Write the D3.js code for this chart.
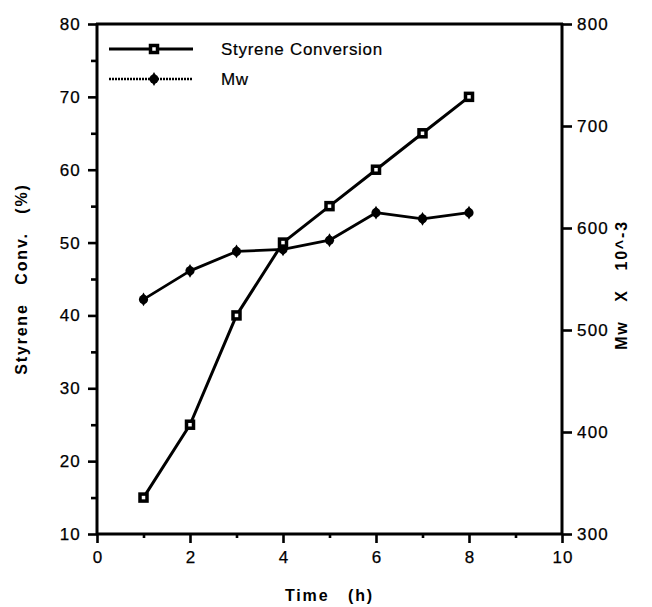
<!DOCTYPE html>
<html>
<head>
<meta charset="utf-8">
<script src="https://cdn.jsdelivr.net/npm/d3@7"></script>
<style>
  html, body { margin: 0; padding: 0; background: #fff; }
  svg text { font-family: "Liberation Sans", Arial, Helvetica, sans-serif; fill: #000; }
</style>
</head>
<body>
<svg id="chart" width="652" height="607"></svg>
<script>
// Reaction time (h)
const hours = [1, 2, 3, 4, 5, 6, 7, 8];
// Styrene conversion (%)
const conversion = [15, 25, 40, 50, 55, 60, 65, 70];
// Weight-average molecular weight, Mw x 10^-3
const mw = [530, 558, 577, 579, 588, 615, 609, 615];

const xTicks = [0, 2, 4, 6, 8, 10];
const xMinor = [1, 3, 5, 7, 9];
const leftTicks = [10, 20, 30, 40, 50, 60, 70, 80];
const leftMinor = [15, 25, 35, 45, 55, 65, 75];
const rightTicks = [300, 400, 500, 600, 700, 800];

const legendLabels = ["Styrene Conversion", "Mw"];

const svg = d3.select("#chart");
const plot = { left: 97, right: 562, top: 24, bottom: 534 };

const x = d3.scaleLinear().domain([0, 10]).range([plot.left, plot.right]);
const yL = d3.scaleLinear().domain([10, 80]).range([plot.bottom, plot.top]);
const yR = d3.scaleLinear().domain([300, 800]).range([plot.bottom, plot.top]);

const axisW = 3;

function styleAxis(g) {
  g.select(".domain").remove();
  g.selectAll(".tick line").attr("stroke", "#000").attr("stroke-width", 2.6);
  g.selectAll(".tick text")
    .attr("font-size", 17)
    .attr("letter-spacing", "1.2px")
    .attr("stroke", "#000")
    .attr("stroke-width", 0.25);
}

// Minor ticks first so major ticks draw over them
svg.append("g")
  .attr("transform", `translate(0,${plot.bottom})`)
  .call(d3.axisBottom(x).tickValues(xMinor).tickSize(4).tickFormat(""))
  .call(styleAxis);
svg.append("g")
  .attr("transform", `translate(${plot.left},0)`)
  .call(d3.axisLeft(yL).tickValues(leftMinor).tickSize(6).tickFormat(""))
  .call(styleAxis);

// Major ticks with labels
const gx = svg.append("g")
  .attr("transform", `translate(0,${plot.bottom})`)
  .call(d3.axisBottom(x).tickValues(xTicks).tickSize(9).tickPadding(8).tickFormat(d3.format("d")))
  .call(styleAxis);
gx.selectAll(".tick text").attr("dx", "0.6px");

svg.append("g")
  .attr("transform", `translate(${plot.left},0)`)
  .call(d3.axisLeft(yL).tickValues(leftTicks).tickSize(9).tickPadding(7).tickFormat(d3.format("d")))
  .call(styleAxis);

svg.append("g")
  .attr("transform", `translate(${plot.right},0)`)
  .call(d3.axisRight(yR).tickValues(rightTicks).tickSize(10).tickPadding(5).tickFormat(d3.format("d")))
  .call(styleAxis);

// Frame: bottom, left, top and right edges
const frame = svg.append("g").attr("stroke", "#000").attr("stroke-width", axisW).attr("fill", "none");
frame.append("line").attr("x1", plot.left - 1).attr("x2", plot.right + 1).attr("y1", plot.bottom).attr("y2", plot.bottom);
frame.append("line").attr("x1", plot.left).attr("x2", plot.left).attr("y1", plot.top - 1).attr("y2", plot.bottom + 1);
frame.append("line").attr("x1", plot.left - 1).attr("x2", plot.right + 1).attr("y1", plot.top).attr("y2", plot.top);
frame.append("line").attr("x1", plot.right).attr("x2", plot.right).attr("y1", plot.top - 1).attr("y2", plot.bottom + 1);

// Axis titles
const titleFont = { size: 16, weight: "bold", spacing: "1.8px" };
svg.append("text")
  .attr("x", (plot.left + plot.right) / 2)
  .attr("y", 601)
  .attr("text-anchor", "middle")
  .attr("font-size", titleFont.size)
  .attr("font-weight", titleFont.weight)
  .attr("letter-spacing", titleFont.spacing)
  .style("white-space", "pre")
  .text("Time   (h)");

svg.append("text")
  .attr("transform", `translate(27,${(plot.top + plot.bottom) / 2}) rotate(-90)`)
  .attr("text-anchor", "middle")
  .attr("font-size", titleFont.size)
  .attr("font-weight", titleFont.weight)
  .attr("letter-spacing", titleFont.spacing)
  .style("white-space", "pre")
  .text("Styrene   Conv.   (%)");

svg.append("text")
  .attr("transform", `translate(627,${(plot.top + plot.bottom) / 2 + 6}) rotate(-90)`)
  .attr("text-anchor", "middle")
  .attr("font-size", titleFont.size)
  .attr("font-weight", titleFont.weight)
  .attr("letter-spacing", titleFont.spacing)
  .style("white-space", "pre")
  .text("Mw   X   10^-3");

// Data lines
const lineConv = d3.line().x((d, i) => x(hours[i])).y(d => yL(d));
const lineMw = d3.line().x((d, i) => x(hours[i])).y(d => yR(d));

svg.append("path")
  .datum(mw)
  .attr("d", lineMw)
  .attr("fill", "none")
  .attr("stroke", "#000")
  .attr("stroke-width", 2.8)
  .attr("stroke-linejoin", "round");

svg.append("path")
  .datum(conversion)
  .attr("d", lineConv)
  .attr("fill", "none")
  .attr("stroke", "#000")
  .attr("stroke-width", 3)
  .attr("stroke-linejoin", "round");

// Markers: open squares with heavy outline, filled dots
const sq = 7;
function squareMarker(sel) {
  sel.append("rect")
    .attr("x", -sq / 2).attr("y", -sq / 2)
    .attr("width", sq).attr("height", sq)
    .attr("fill", "#fff")
    .attr("stroke", "#000")
    .attr("stroke-width", 3.5);
}
const diamond = d3.symbol().type(d3.symbolDiamond).size(55);
function mwMarker(sel) {
  sel.append("circle").attr("r", 4.6).attr("fill", "#000");
  sel.append("path").attr("d", diamond).attr("fill", "#000");
}

svg.append("g").selectAll("g")
  .data(mw)
  .join("g")
  .attr("transform", (d, i) => `translate(${x(hours[i])},${yR(d)})`)
  .call(mwMarker);

svg.append("g").selectAll("g")
  .data(conversion)
  .join("g")
  .attr("transform", (d, i) => `translate(${x(hours[i])},${yL(d)})`)
  .call(squareMarker);

// Legend
const legend = svg.append("g");
const legY = [49, 79];
legend.append("line")
  .attr("x1", 109).attr("x2", 193).attr("y1", legY[0]).attr("y2", legY[0])
  .attr("stroke", "#000").attr("stroke-width", 3);
legend.append("g").attr("transform", `translate(154,${legY[0]})`).call(squareMarker);
legend.append("line")
  .attr("x1", 109).attr("x2", 193).attr("y1", legY[1]).attr("y2", legY[1])
  .attr("stroke", "#000").attr("stroke-width", 2.4)
  .attr("stroke-dasharray", "2,1");
legend.append("g").attr("transform", `translate(154,${legY[1]})`).call(mwMarker);

legend.selectAll("text")
  .data(legendLabels)
  .join("text")
  .attr("x", 221)
  .attr("y", (d, i) => legY[i] + 6)
  .attr("font-size", 17)
  .attr("letter-spacing", "0.7px")
  .attr("stroke", "#000")
  .attr("stroke-width", 0.2)
  .text(d => d);
</script>
</body>
</html>
